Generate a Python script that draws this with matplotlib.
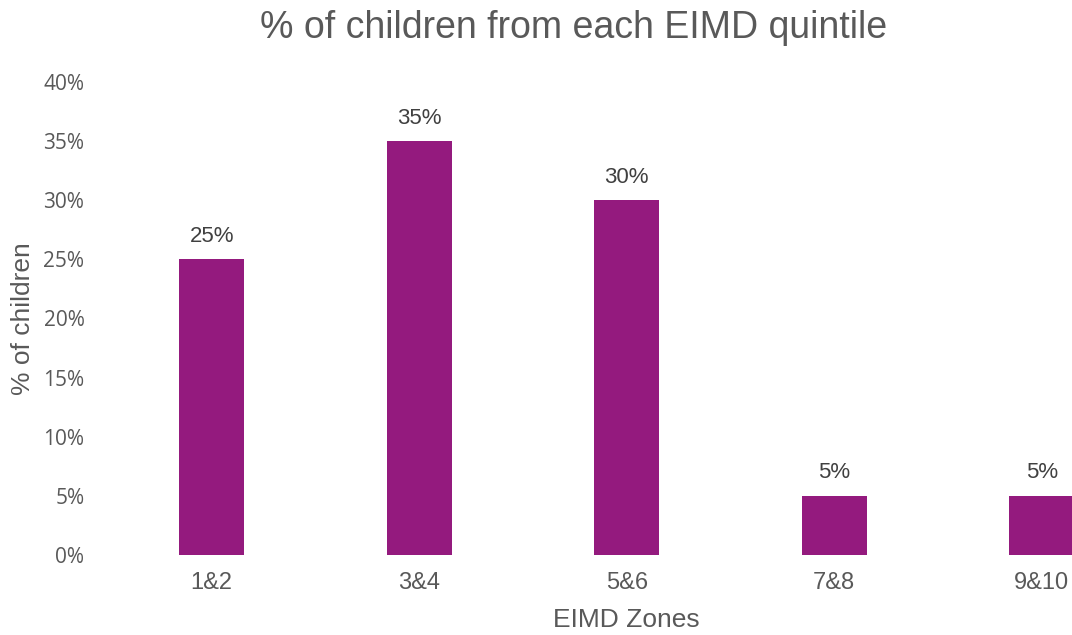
import matplotlib.pyplot as plt
from matplotlib.ticker import PercentFormatter

zones = ['1&2', '3&4', '5&6', '7&8', '9&10']
pct_children = [0.25, 0.35, 0.30, 0.05, 0.05]
y_ticks = [0, 0.05, 0.10, 0.15, 0.20, 0.25, 0.30, 0.35, 0.40]

bar_color = '#941A7E'
grey = '#595959'

fig = plt.figure(figsize=(10.72, 6.35), dpi=100)
ax = fig.add_axes([108 / 1072, 80 / 635, 1037.5 / 1072, 473 / 635])

x = range(len(zones))
bars = ax.bar(x, pct_children, width=0.313, color=bar_color)

for b, v in zip(bars, pct_children):
    ax.annotate(f'{v:.0%}', (b.get_x() + b.get_width() / 2, v),
                xytext=(0, 9), textcoords='offset points',
                ha='center', va='bottom', fontsize=16,
                family='Liberation Sans', color='#404040')

ax.set_xlim(-0.5, 4.5)
ax.set_ylim(0, 0.40)
ax.set_xticks(list(x))
ax.set_xticklabels(zones, family='Liberation Sans', fontsize=17, color=grey)
ax.set_yticks(y_ticks)
ax.yaxis.set_major_formatter(PercentFormatter(1.0, decimals=0))
for lbl in ax.get_yticklabels():
    lbl.set_family('Open Sans')
    lbl.set_fontsize(15)
    lbl.set_color(grey)
ax.tick_params(axis='y', length=0, pad=17)
ax.tick_params(axis='x', length=0, pad=12)

for s in ax.spines.values():
    s.set_visible(False)

ax.set_xlabel('EIMD Zones', family='Liberation Sans', fontsize=19, color=grey, labelpad=10)
ax.set_ylabel('% of children', family='Liberation Sans', fontsize=19, color=grey, labelpad=6)

fig.text(574 / 1072, 1 - 28 / 635, '% of children from each EIMD quintile',
         ha='center', va='center', family='Liberation Sans', fontsize=27, color=grey)

fig.savefig('out.png', dpi=100)
